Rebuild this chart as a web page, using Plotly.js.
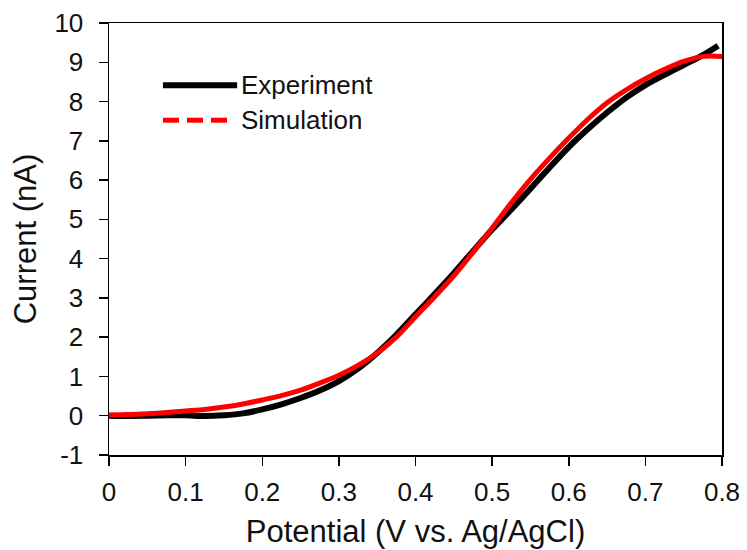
<!DOCTYPE html>
<html>
<head>
<meta charset="utf-8">
<script src="https://cdn.plot.ly/plotly-3.0.1.min.js"></script>
<style>html,body{margin:0;padding:0;background:#fff;}#chart{width:747px;height:550px;}</style>
</head>
<body>
<div id="chart"></div>
<script>
const expPotential = [0, 0.025, 0.05, 0.075, 0.1, 0.125, 0.15, 0.175, 0.2, 0.225, 0.25, 0.275, 0.3, 0.325, 0.35, 0.375, 0.4, 0.425, 0.45, 0.475, 0.5, 0.525, 0.55, 0.575, 0.6, 0.625, 0.65, 0.675, 0.7, 0.725, 0.75, 0.775, 0.795];
const expCurrent = [0, -0.01, 0.0, 0.01, 0.01, -0.01, 0.01, 0.06, 0.16, 0.29, 0.45, 0.64, 0.88, 1.2, 1.6, 2.06, 2.58, 3.1, 3.63, 4.19, 4.74, 5.25, 5.78, 6.32, 6.84, 7.3, 7.72, 8.1, 8.42, 8.68, 8.93, 9.18, 9.42];
const simPotential = [0, 0.025, 0.05, 0.075, 0.1, 0.125, 0.15, 0.175, 0.2, 0.225, 0.25, 0.275, 0.3, 0.325, 0.35, 0.375, 0.4, 0.425, 0.45, 0.475, 0.5, 0.525, 0.55, 0.575, 0.6, 0.625, 0.65, 0.675, 0.7, 0.725, 0.75, 0.775, 0.8];
const simCurrent = [0.02, 0.03, 0.05, 0.08, 0.12, 0.16, 0.22, 0.3, 0.4, 0.51, 0.65, 0.83, 1.03, 1.28, 1.6, 2.0, 2.52, 3.03, 3.56, 4.16, 4.78, 5.42, 6.02, 6.56, 7.07, 7.55, 7.97, 8.3, 8.58, 8.82, 9.02, 9.15, 9.15];
const seriesNames = ["Experiment", "Simulation"];
const xTickVals = [0, 0.1, 0.2, 0.3, 0.4, 0.5, 0.6, 0.7, 0.8];
const xTickText = ["0", "0.1", "0.2", "0.3", "0.4", "0.5", "0.6", "0.7", "0.8"];
const yTickVals = [-1, 0, 1, 2, 3, 4, 5, 6, 7, 8, 9, 10];
const yTickText = ["-1", "0", "1", "2", "3", "4", "5", "6", "7", "8", "9", "10"];
const xTitle = "Potential (V vs. Ag/AgCl)";
const yTitle = "Current (nA)";

const FONT = "Liberation Sans, Arial, sans-serif";

const traces = [
  {x: expPotential, y: expCurrent, name: seriesNames[0], type: "scatter", mode: "lines",
   line: {color: "#000000", width: 6, shape: "spline", smoothing: 0.8}, showlegend: false},
  {x: simPotential, y: simCurrent, name: seriesNames[1], type: "scatter", mode: "lines",
   line: {color: "#ff0000", width: 5, shape: "spline", smoothing: 0.8}, showlegend: false}
];

const axisCommon = {
  showgrid: false, zeroline: false, showline: true, linecolor: "#000", linewidth: 1.5,
  mirror: true, ticks: "outside", ticklen: 9, tickwidth: 1.5, tickcolor: "#000",
  tickfont: {family: FONT, size: 26, color: "#111"}, tickmode: "array"
};

// legend key geometry (paper fractions)
const legendRowY = [0.856, 0.775];
const redDashes = [[0.0881, 0.1142], [0.1272, 0.1533], [0.1664, 0.1925]];
const shapes = [
  {type: "line", xref: "paper", yref: "paper", x0: 0.088, x1: 0.209, y0: legendRowY[0], y1: legendRowY[0],
   line: {color: "#000", width: 6}}
].concat(redDashes.map(d => ({type: "line", xref: "paper", yref: "paper", x0: d[0], x1: d[1],
   y0: legendRowY[1], y1: legendRowY[1], line: {color: "#ff0000", width: 5}})));

const layout = {
  width: 747, height: 550,
  margin: {l: 109, r: 25, t: 23, b: 95},
  paper_bgcolor: "#fff", plot_bgcolor: "#fff",
  showlegend: false,
  xaxis: Object.assign({}, axisCommon, {
    range: [0, 0.8], tickvals: xTickVals, ticktext: xTickText, ticklabelstandoff: 4,
    title: {text: xTitle, font: {family: FONT, size: 31, color: "#111"}, standoff: 14}
  }),
  yaxis: Object.assign({}, axisCommon, {
    range: [-1, 10], tickvals: yTickVals, ticktext: yTickText, ticklabelstandoff: 10,
    title: {text: yTitle, font: {family: FONT, size: 31, color: "#111"}, standoff: 8}
  }),
  shapes: shapes,
  annotations: [
    {xref: "paper", yref: "paper", x: 0.212, y: legendRowY[0], xanchor: "left", yanchor: "middle",
     text: seriesNames[0], showarrow: false, font: {family: FONT, size: 26, color: "#111"}},
    {xref: "paper", yref: "paper", x: 0.212, y: legendRowY[1], xanchor: "left", yanchor: "middle",
     text: seriesNames[1], showarrow: false, font: {family: FONT, size: 26, color: "#111"}}
  ]
};

Plotly.newPlot("chart", traces, layout, {displayModeBar: false, staticPlot: true});
</script>
</body>
</html>
